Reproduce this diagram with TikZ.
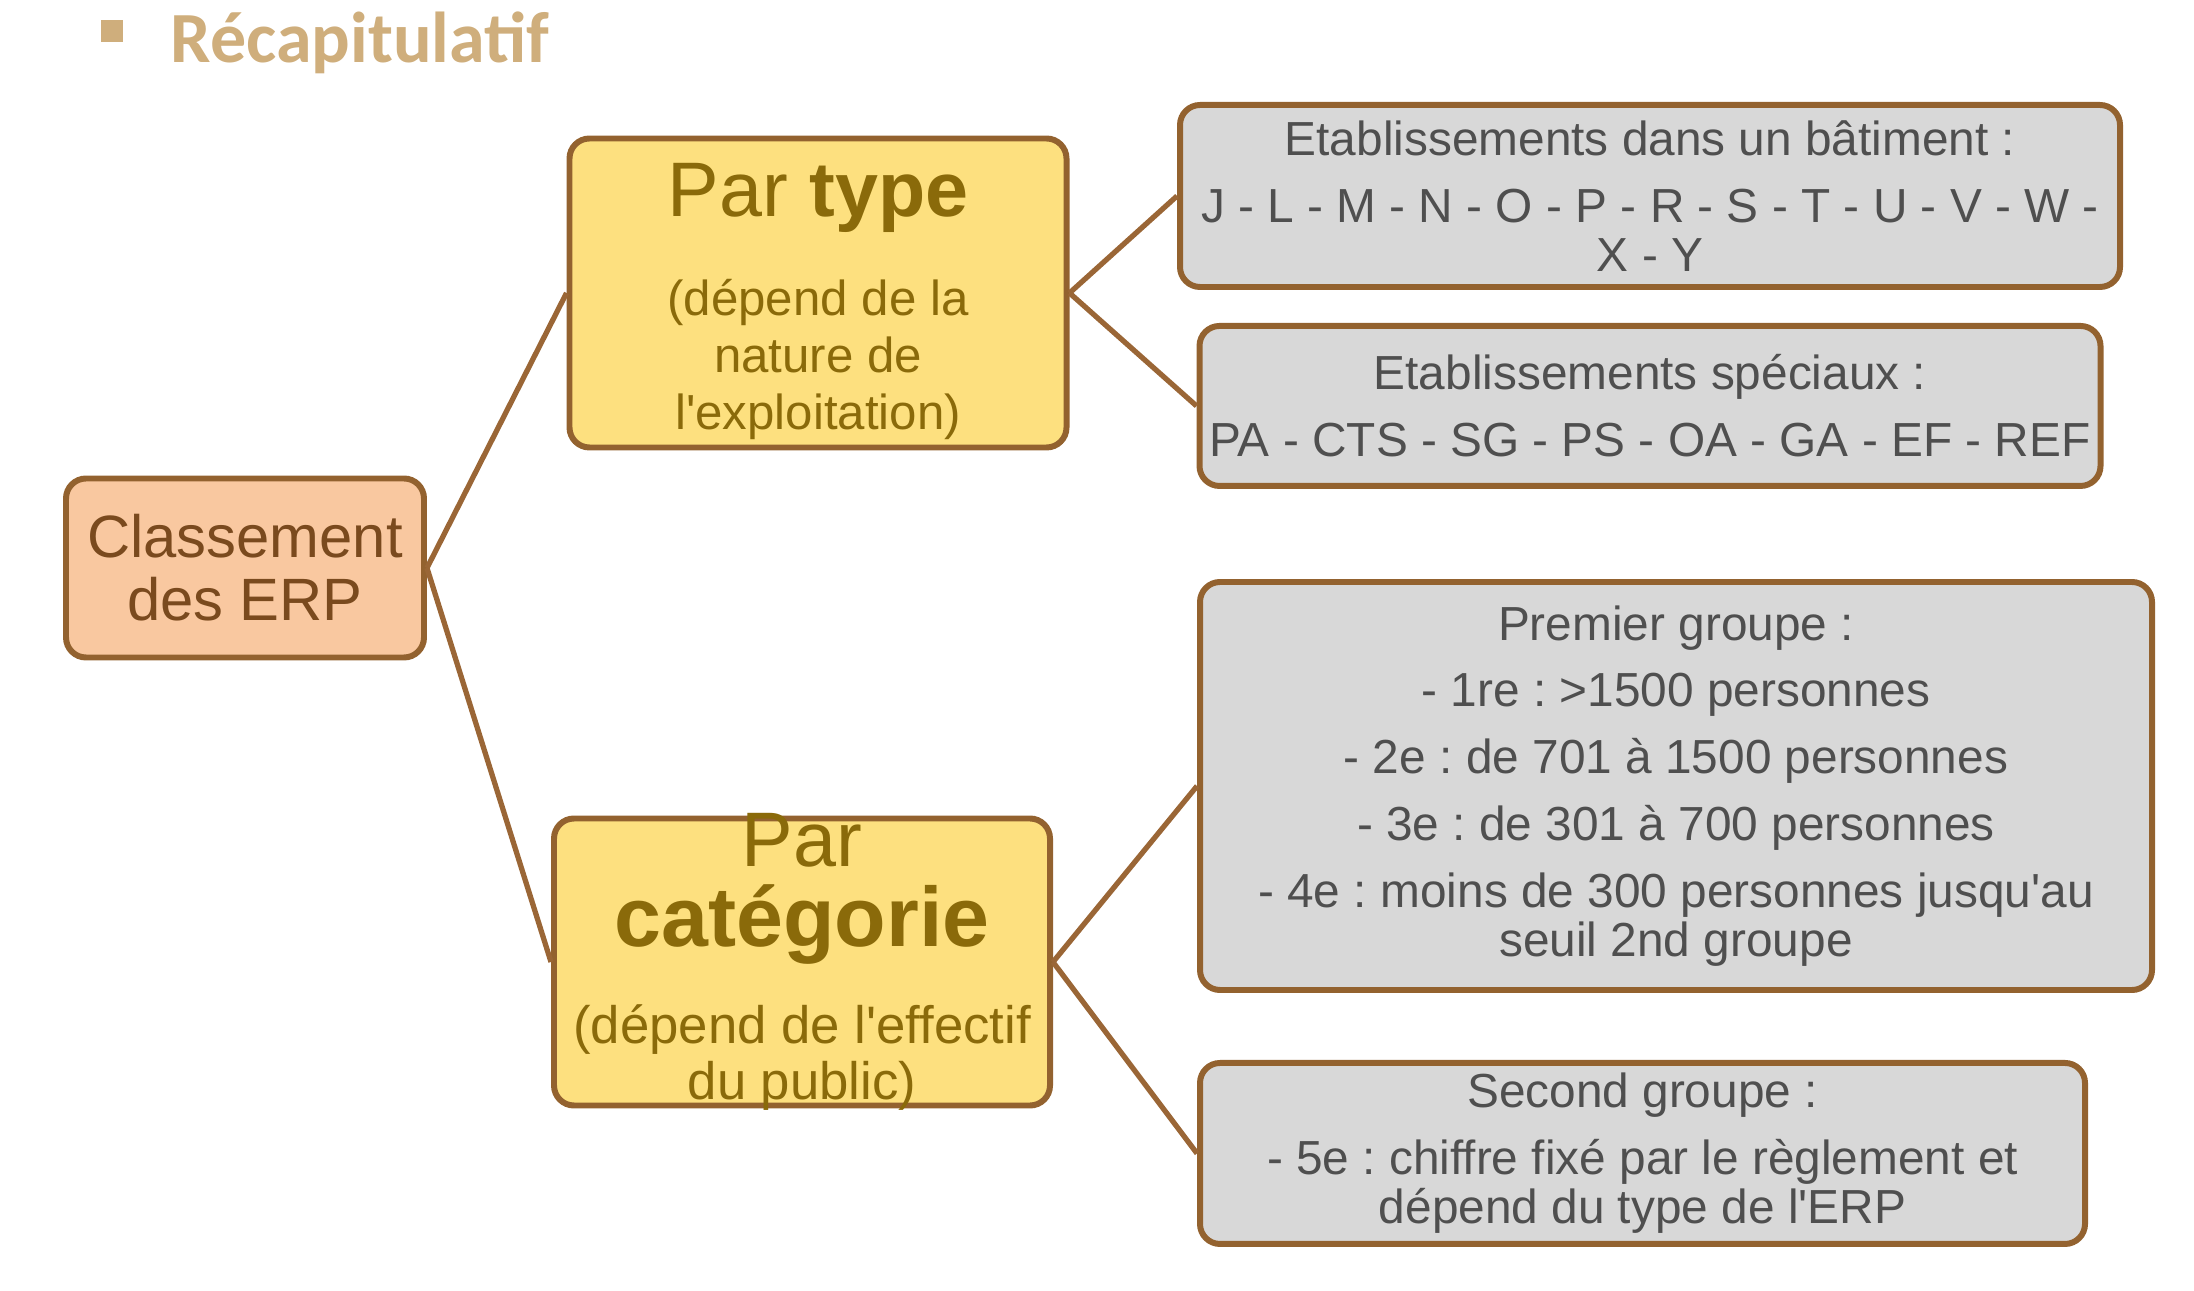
\documentclass[tikz,border=0pt]{standalone}
\usepackage{fontspec}
\setmainfont{Liberation Sans}
\newfontfamily\titlefont{Carlito}
\usetikzlibrary{positioning}
\newcommand{\ap}{\textquotesingle}
\definecolor{titletan}{HTML}{CFAE7C}
\definecolor{edgebrown}{HTML}{9A6636}
\definecolor{boxborder}{HTML}{93622F}
\definecolor{rootfill}{HTML}{F9C8A0}
\definecolor{roottext}{HTML}{7A4A1E}
\definecolor{mainfill}{HTML}{FDE07F}
\definecolor{maintext}{HTML}{8A6A0A}
\definecolor{leaffill}{HTML}{D8D8D8}
\definecolor{leaftext}{HTML}{4F4F4F}

\begin{document}
\frenchspacing
\begin{tikzpicture}[box/.style={draw=boxborder,line width=1.7pt,rounded corners=2mm,align=center,inner sep=0pt},
    root/.style={box,fill=rootfill,text=roottext,font=\fontsize{17}{18}\selectfont},
    main/.style={box,fill=mainfill,text=maintext,font=\fontsize{14}{16.2}\selectfont},
    leaf/.style={box,fill=leaffill,text=leaftext,font=\fontsize{13.6}{14}\selectfont},
    edge/.style={draw=edgebrown,line width=1.5pt}]

    \useasboundingbox (0,0) rectangle (21.94,12.90);

    %--------------------------------------------
    % Title
    \node[fill=titletan,minimum size=0.22cm,inner sep=0pt] (bullet) at (1.12,12.59) {};
    \node[anchor=base west,inner sep=0pt,text=titletan,font=\titlefont\bfseries\fontsize{20.5}{24}\selectfont] (title) at (1.70,12.27) {Récapitulatif};

    %--------------------------------------------
    % Nodes
    \node[root,minimum width=3.58cm,minimum height=1.79cm] (erp) at (2.45,7.22) {Classement\\des ERP};

    \node[main,minimum width=4.97cm,minimum height=3.09cm] (ptype) at (8.18,9.97)
        {\rule{0pt}{20pt}{\fontsize{22}{26}\selectfont Par \textbf{type}}\\[12pt] (dépend de la\\ nature de\\ l\ap exploitation)};

    \node[main,minimum width=4.96cm,minimum height=2.87cm,inner ysep=-4pt,font=\fontsize{15}{16}\selectfont] (pcat) at (8.02,3.28)
        {{\fontsize{22}{26}\selectfont Par}\\[4pt] {\fontsize{24}{28}\selectfont\bfseries catégorie}\\[10.5pt] (dépend de l\ap effectif\\ du public)};

    \node[leaf,minimum width=9.40cm,minimum height=1.82cm] (batiment) at (16.50,10.94)
        {Etablissements dans un bâtiment :\\[5pt] J - L - M - N - O - P - R - S - T - U - V - W -\\ X - Y};

    \node[leaf,below=0.33 of batiment,minimum width=9.01cm,minimum height=1.60cm] (speciaux)
        {Etablissements spéciaux :\\[5pt] PA - CTS - SG - PS - OA - GA - EF - REF};

    \node[leaf,minimum width=9.52cm,minimum height=4.08cm] (premier) at (16.76,5.04)
        {Premier groupe :\\[5pt] - 1re : >1500 personnes\\[5pt] - 2e : de 701 à 1500 personnes\\[5pt]
         - 3e : de 301 à 700 personnes\\[5pt] - 4e : moins de 300 personnes jusqu\ap au\\ seuil 2nd groupe};

    \node[leaf,below=0.67 of premier.south west,anchor=north west,minimum width=8.85cm,minimum height=1.81cm] (second)
        {Second groupe :\\[5pt] - 5e : chiffre fixé par le règlement et\\ dépend du type de l\ap ERP};

    %--------------------------------------------
    % Edges
    \draw[edge] (erp.east) -- (ptype.west);
    \draw[edge] (erp.east) -- (pcat.west);

    \draw[edge] (ptype.east) -- (batiment.west);
    \draw[edge] (ptype.east) -- (speciaux.west);

    \draw[edge] (pcat.east) -- (premier.west);
    \draw[edge] (pcat.east) -- (second.west);
\end{tikzpicture}
\end{document}
